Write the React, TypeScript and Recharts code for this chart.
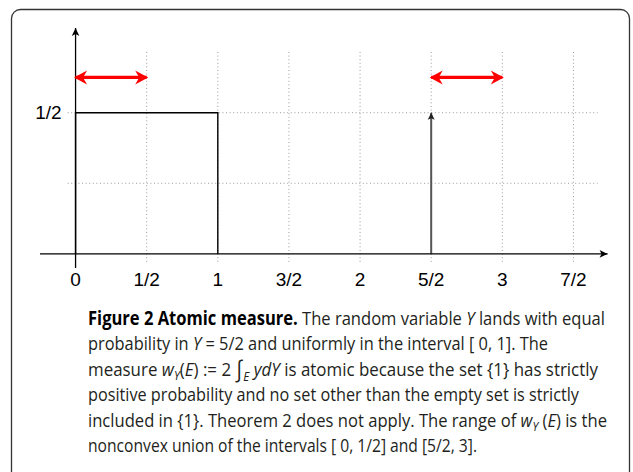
import React from 'react';
import { LineChart, Line, XAxis, YAxis, ReferenceDot } from 'recharts';

// axis ticks
const xTicks = [0, 0.5, 1, 1.5, 2, 2.5, 3, 3.5];
const xTickLabels = ['0', '1/2', '1', '3/2', '2', '5/2', '3', '7/2'];
const yGridLevels = [0.25, 0.5];
const yTickValue = 0.5;
const yTickLabel = '1/2';

// uniform part of the density on [0, 1], height 1/2
const densityStep = [
  { x: 0, y: 0 },
  { x: 0, y: 0.5 },
  { x: 1, y: 0.5 },
  { x: 1, y: 0 },
];
// atom at Y = 5/2
const atom = [
  { x: 2.5, y: 0 },
  { x: 2.5, y: 0.5 },
];
// range of w_Y(E): [0, 1/2] and [5/2, 3]
const rangeIntervals = [
  [0, 0.5],
  [2.5, 3],
];
const rangeLevel = 0.625;

// extents of axes and grid (value space)
const X_DOMAIN = [-0.25, 3.75];
const Y_DOMAIN = [-0.05, 0.8];
const X_AXIS_END = 3.74;
const GRID_X_FROM = -0.056;
const GRID_X_TO = 3.67;
const GRID_Y_FROM = -0.028;
const GRID_Y_TO = 0.72;

const tickFont = "'Liberation Sans', Arial, Helvetica, sans-serif";
const capFont = "'Open Sans', 'Noto Sans', sans-serif";

type Dir = 'left' | 'right' | 'up';

const headPath = (cx: number, cy: number, dir: Dir, L: number, H: number, N: number, o: number) => {
  const u = dir === 'left' ? [-1, 0] : dir === 'right' ? [1, 0] : [0, -1];
  const p = [-u[1], u[0]];
  const tx = cx + u[0] * o;
  const ty = cy + u[1] * o;
  const b1 = [tx - u[0] * L + p[0] * H, ty - u[1] * L + p[1] * H];
  const n = [tx - u[0] * (L - N), ty - u[1] * (L - N)];
  const b2 = [tx - u[0] * L - p[0] * H, ty - u[1] * L - p[1] * H];
  return `M${tx},${ty}L${b1[0]},${b1[1]}L${n[0]},${n[1]}L${b2[0]},${b2[1]}Z`;
};

const endArrow = (dir: Dir, fill: string, L: number, H: number, N: number) => (p: any) =>
  p.index === 1 ? (
    <path key={`a-${p.index}`} d={headPath(p.cx, p.cy, dir, L, H, N, 0)} fill={fill} />
  ) : (
    <g key={`a-${p.index}`} />
  );

const redHeads = (p: any) => (
  <path
    key={`r-${p.index}`}
    d={headPath(p.cx, p.cy, p.index === 0 ? 'left' : 'right', 13, 7, 4, 1.5)}
    fill="#ff0000"
  />
);

const App: React.FC = () => {
  const gridColor = '#9a9a9a';
  return (
    <div style={{ position: 'absolute', left: 0, top: 0, width: 633, height: 472, background: '#fff', overflow: 'hidden' }}>
      <svg width={633} height={472} style={{ position: 'absolute', left: 0, top: 0 }}>
        <rect x={11.5} y={9.5} width={618} height={490} rx={9} fill="none" stroke="#333" strokeWidth={1.3} />
        <g fontFamily={capFont} fontSize={19} fill="#231f20">
          <text x={88} y={325} textLength={517} lengthAdjust="spacingAndGlyphs">
            <tspan fontWeight={700} fill="#000">Figure 2 Atomic measure.</tspan> The random variable{' '}
            <tspan fontStyle="italic">Y</tspan> lands with equal
          </text>
          <text x={88} y={350.4} textLength={460} lengthAdjust="spacingAndGlyphs">
            probability in <tspan fontStyle="italic">Y</tspan> = 5/2 and uniformly in the interval [ 0, 1]. The
          </text>
          <text x={88} y={375.8} textLength={510} lengthAdjust="spacingAndGlyphs">
            measure <tspan fontStyle="italic">w</tspan>
            <tspan fontStyle="italic" fontSize={13} dy={4}>Y</tspan>
            <tspan dy={-4}>(</tspan>
            <tspan fontStyle="italic">E</tspan>) := 2 <tspan fontSize={23} dy={1}>∫</tspan>
            <tspan fontStyle="italic" fontSize={13} dy={4}>E</tspan>
            <tspan dy={-5} fontStyle="italic"> ydY</tspan> is atomic because the set {'{1}'} has strictly
          </text>
          <text x={88} y={401.2} textLength={491} lengthAdjust="spacingAndGlyphs">
            positive probability and no set other than the empty set is strictly
          </text>
          <text x={88} y={426.6} textLength={519} lengthAdjust="spacingAndGlyphs">
            included in {'{1}'}. Theorem 2 does not apply. The range of <tspan fontStyle="italic">w</tspan>
            <tspan fontStyle="italic" fontSize={13} dy={4}>Y</tspan>
            <tspan dy={-4}> (</tspan>
            <tspan fontStyle="italic">E</tspan>) is the
          </text>
          <text x={88} y={452} textLength={389} lengthAdjust="spacingAndGlyphs">
            nonconvex union of the intervals [ 0, 1/2] and [5/2, 3].
          </text>
        </g>
      </svg>
      <div style={{ position: 'absolute', left: 0, top: 0 }}>
        <LineChart width={633} height={300} margin={{ top: 28, right: 24, bottom: 2, left: 40 }}>
          <XAxis
            type="number"
            dataKey="x"
            domain={X_DOMAIN}
            allowDataOverflow
            ticks={xTicks}
            interval={0}
            tickFormatter={(v: number) => xTickLabels[xTicks.indexOf(v)] ?? ''}
            axisLine={false}
            tickLine={false}
            tickSize={5}
            tickMargin={0}
            height={30}
            tick={{ fill: '#000', fontSize: 19, fontFamily: tickFont }}
          />
          <YAxis type="number" dataKey="y" domain={Y_DOMAIN} allowDataOverflow hide />

          {xTicks
            .filter((t) => t > 0)
            .map((t) => (
              <Line
                key={`vg-${t}`}
                data={[{ x: t, y: GRID_Y_FROM }, { x: t, y: GRID_Y_TO }]}
                dataKey="y"
                stroke={gridColor}
                strokeWidth={1}
                strokeDasharray="1 2.6"
                dot={false}
                activeDot={false}
                isAnimationActive={false}
              />
            ))}
          {yGridLevels.map((v) => (
            <Line
              key={`hg-${v}`}
              data={[{ x: GRID_X_FROM, y: v }, { x: GRID_X_TO, y: v }]}
              dataKey="y"
              stroke={gridColor}
              strokeWidth={1}
              strokeDasharray="1 2.6"
              dot={false}
              activeDot={false}
              isAnimationActive={false}
            />
          ))}

          <Line
            data={densityStep}
            dataKey="y"
            type="linear"
            stroke="#000"
            strokeWidth={1.4}
            dot={false}
            activeDot={false}
            isAnimationActive={false}
          />
          <Line
            data={atom}
            dataKey="y"
            type="linear"
            stroke="#555"
            strokeWidth={2}
            dot={endArrow('up', '#222', 7, 3.5, 1.5)}
            activeDot={false}
            isAnimationActive={false}
          />

          {/* axes */}
          <Line
            data={[{ x: X_DOMAIN[0], y: 0 }, { x: X_AXIS_END, y: 0 }]}
            dataKey="y"
            stroke="#000"
            strokeWidth={1.3}
            dot={endArrow('right', '#000', 8, 3.8, 2)}
            activeDot={false}
            isAnimationActive={false}
          />
          <Line
            data={[{ x: 0, y: Y_DOMAIN[0] }, { x: 0, y: Y_DOMAIN[1] }]}
            dataKey="y"
            stroke="#000"
            strokeWidth={1.3}
            dot={endArrow('up', '#000', 8, 3.8, 2)}
            activeDot={false}
            isAnimationActive={false}
          />

          {rangeIntervals.map(([a, b]) => (
            <Line
              key={`ri-${a}`}
              data={[{ x: a, y: rangeLevel }, { x: b, y: rangeLevel }]}
              dataKey="y"
              stroke="#ff0000"
              strokeWidth={3.2}
              dot={redHeads}
              activeDot={false}
              isAnimationActive={false}
            />
          ))}

          <ReferenceDot
            x={GRID_X_FROM}
            y={yTickValue}
            r={0}
            fill="none"
            stroke="none"
            label={{ value: yTickLabel, position: 'left', offset: 6, fill: '#000', fontSize: 19, fontFamily: tickFont }}
          />
        </LineChart>
      </div>
    </div>
  );
};

export default App;
